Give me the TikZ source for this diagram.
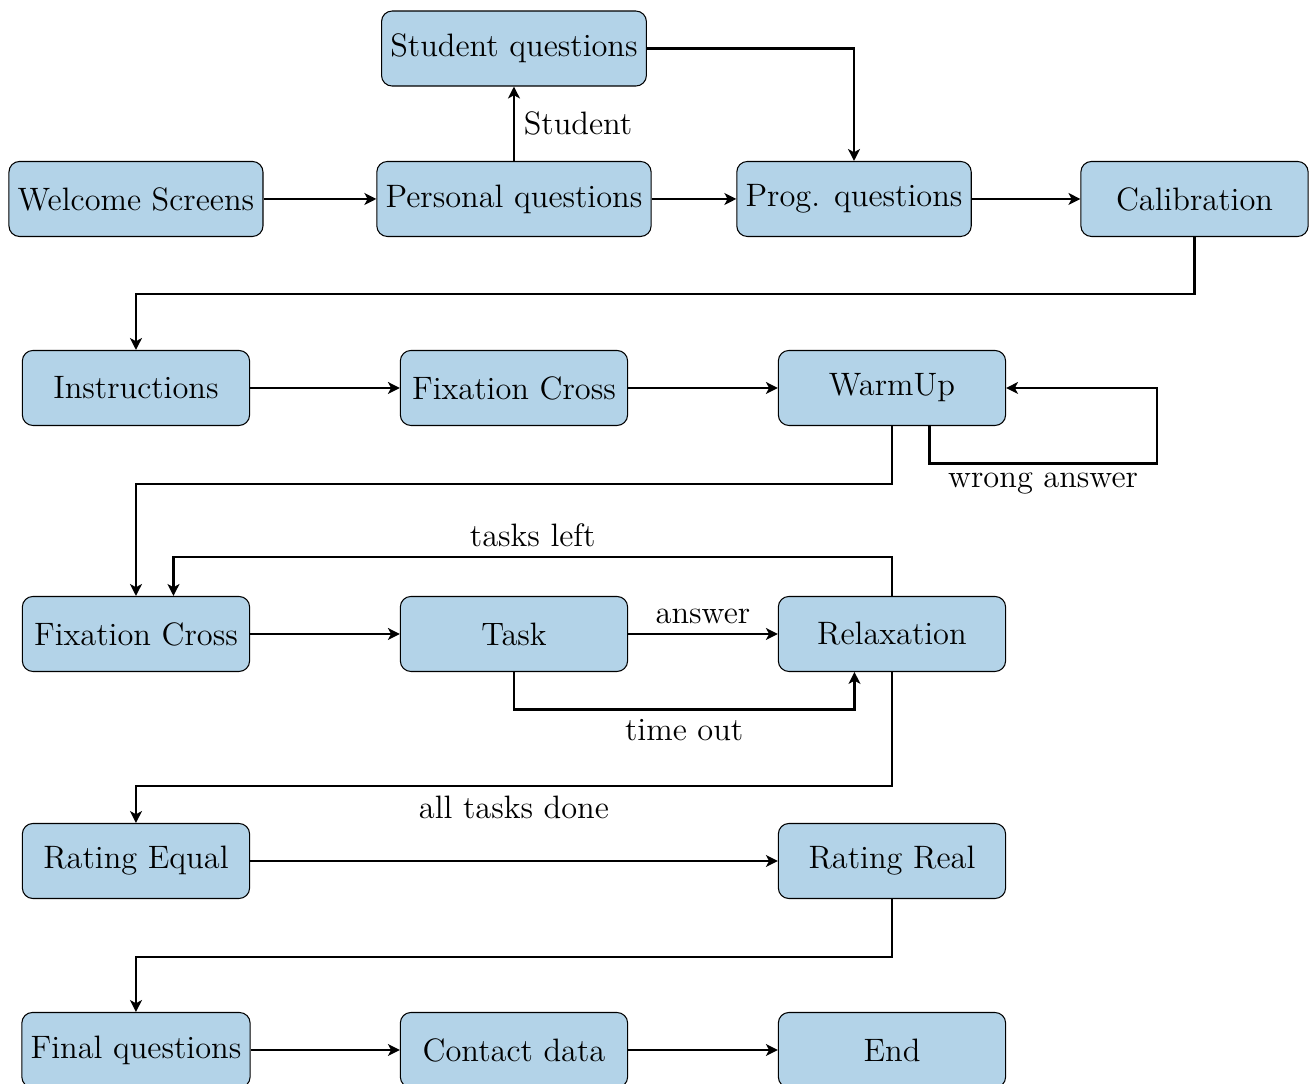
\documentclass[tikz,border=0pt]{standalone}
\usetikzlibrary{arrows.meta}

\definecolor{boxblue}{RGB}{179,211,232}

\tikzset{
    box/.style={draw, thin, rounded corners=4pt, fill=boxblue,
        minimum width=3.03cm, minimum height=1cm},
    arr/.style={-{Stealth[length=4.5pt,width=4.5pt,inset=1.2pt]}, thick},
}

\begin{document}
\begin{tikzpicture}[font=\fontsize{12.3}{15}\selectfont]

    % パラメータの定義
    \pgfmathsetmacro{\xa}{1.813}
    \pgfmathsetmacro{\xb}{6.853}
    \pgfmathsetmacro{\xc}{11.893}
    \pgfmathsetmacro{\ys}{-0.647}
    \pgfmathsetmacro{\ya}{-2.653}
    \pgfmathsetmacro{\yb}{-5.173}
    \pgfmathsetmacro{\yc}{-8.453}
    \pgfmathsetmacro{\yd}{-11.48}
    \pgfmathsetmacro{\ye}{-14.0}

    \useasboundingbox (0,0) rectangle (17.547,-14.453);

    % ノードの配置
    \node[box] (welcome)  at (\xa,\ya)     {Welcome Screens};
    \node[box] (personal) at (\xb,\ya)     {Personal questions};
    \node[box] (student)  at (\xb,\ys)     {Student questions};
    \node[box] (prog)     at (11.387,\ya)  {Prog. questions};
    \node[box] (calib)    at (15.927,\ya)  {Calibration};

    \node[box] (instr)    at (\xa,\yb)     {Instructions};
    \node[box] (fixA)     at (\xb,\yb)     {Fixation Cross};
    \node[box] (warmup)   at (\xc,\yb)     {WarmUp};

    \node[box] (fixB)     at (\xa,\yc)     {Fixation Cross};
    \node[box] (task)     at (\xb,\yc)     {Task};
    \node[box] (relax)    at (\xc,\yc)     {Relaxation};

    \node[box] (rateq)    at (\xa,\yd)     {Rating Equal};
    \node[box] (ratreal)  at (\xc,\yd)     {Rating Real};

    \node[box] (final)    at (\xa,\ye)     {Final questions};
    \node[box] (contact)  at (\xb,\ye)     {Contact data};
    \node[box] (endbox)   at (\xc,\ye)     {End};

    % 矢印の描画
    \draw[arr] (welcome) -- (personal);
    \draw[arr] (personal) -- node[right] {Student} (student);
    \draw[arr] (student) -| (prog);
    \draw[arr] (personal) -- (prog);
    \draw[arr] (prog) -- (calib);
    \draw[arr] (calib.south) -- ++(0,-0.76) -| (instr.north);

    \draw[arr] (instr) -- (fixA);
    \draw[arr] (fixA) -- (warmup);
    \draw[arr] ([xshift=0.5cm]warmup.south) -- ++(0,-0.5)
        -- node[below] {wrong answer} ++(3.03,0) |- (warmup.east);
    \draw[arr] (warmup.south) -- ++(0,-0.77) -| (fixB.north);

    \draw[arr] (relax.north) -- ++(0,0.52)
        -| node[pos=0.25,above] {tasks left} ([xshift=0.5cm]fixB.north);
    \draw[arr] (fixB) -- (task);
    \draw[arr] (task) -- node[above] {answer} (relax);
    \draw[arr] (task.south) -- ++(0,-0.5)
        -| node[pos=0.25,below] {time out} ([xshift=-0.5cm]relax.south);
    \draw[arr] (relax.south) -- ++(0,-1.52)
        -| node[pos=0.25,below] {all tasks done} (rateq.north);

    \draw[arr] (rateq) -- (ratreal);
    \draw[arr] (ratreal.south) -- ++(0,-0.77) -| (final.north);

    \draw[arr] (final) -- (contact);
    \draw[arr] (contact) -- (endbox);

\end{tikzpicture}
\end{document}
